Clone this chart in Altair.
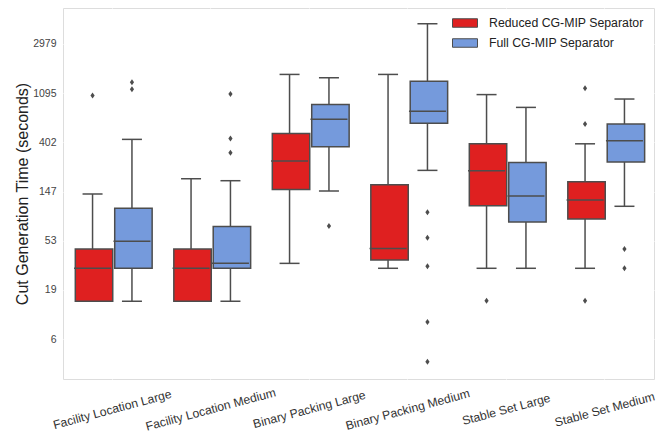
import altair as alt
import pandas as pd

groups = ["Facility Location Large", "Facility Location Medium", "Binary Packing Large",
          "Binary Packing Medium", "Stable Set Large", "Stable Set Medium"]
series = ["Reduced CG-MIP Separator", "Full CG-MIP Separator"]

# values are positions on the (natural-log) time axis
red_lo = [2.77, 2.77, 3.54, 3.44, 3.44, 3.44]
red_q1 = [2.77, 2.77, 5.04, 3.61, 4.71, 4.44]
red_med = [3.44, 3.44, 5.62, 3.84, 5.42, 4.83]
red_q3 = [3.83, 3.83, 6.18, 5.14, 5.97, 5.20]
red_hi = [4.95, 5.26, 7.38, 7.38, 6.97, 5.97]

blue_lo = [2.77, 2.77, 5.01, 5.43, 3.44, 4.70]
blue_q1 = [3.44, 3.44, 5.91, 6.39, 4.38, 5.60]
blue_med = [3.99, 3.54, 6.47, 6.63, 4.91, 6.03]
blue_q3 = [4.66, 4.29, 6.77, 7.24, 5.59, 6.37]
blue_hi = [6.06, 5.22, 7.31, 8.41, 6.71, 6.88]

red_outliers = [[6.95], [], [], [], [2.78], [7.10, 6.37, 2.78]]
blue_outliers = [[7.22, 7.08], [6.98, 6.08, 5.79], [4.30],
                 [4.58, 4.06, 3.48, 2.35, 1.54], [], [3.83, 3.44]]

tick_vals = [2, 3, 4, 5, 6, 7, 8]
tick_labels = ["6", "19", "53", "147", "402", "1095", "2979"]

colors = ["#DF2020", "#759ADC"]
edge = "#4D4D4D"
FONT = "Liberation Sans"

rows = []
for s, (lo, q1, med, q3, hi) in zip(series, [(red_lo, red_q1, red_med, red_q3, red_hi),
                                            (blue_lo, blue_q1, blue_med, blue_q3, blue_hi)]):
    for i, g in enumerate(groups):
        rows.append(dict(group=g, series=s, lo=lo[i], q1=q1[i], med=med[i], q3=q3[i], hi=hi[i]))
summary = pd.DataFrame(rows)

orows = []
for s, outs in zip(series, [red_outliers, blue_outliers]):
    for i, g in enumerate(groups):
        for v in outs[i]:
            orows.append(dict(group=g, series=s, v=v))
outliers = pd.DataFrame(orows)

label_expr = " : ".join(
    f"datum.value == {v} ? '{l}'" for v, l in zip(tick_vals, tick_labels)
) + " : ''"

x_enc = alt.X("group:N", sort=groups, title=None,
              scale=alt.Scale(paddingInner=0, paddingOuter=0),
              axis=alt.Axis(labelAngle=-15, labelAlign="center", labelBaseline="middle",
                            labelPadding=30, labelFontSize=12.2, labelColor="#333",
                            labelFont=FONT, domain=False, ticks=False, tickSize=0,
                            grid=True, gridColor="white", gridWidth=1, bandPosition=0.5))
xo_enc = alt.XOffset("series:N", sort=series,
                     scale=alt.Scale(domain=series, paddingOuter=0.25, paddingInner=0))
y_scale = alt.Scale(domain=[1.19, 8.73], nice=False, zero=False)
y_axis = alt.Axis(values=tick_vals, labelExpr=label_expr, title="Cut Generation Time (seconds)",
                  titleFontSize=16, titleFont=FONT, titleFontWeight="normal", titleColor="#222",
                  titlePadding=2, labelFontSize=10.5, labelColor="#444", labelFont=FONT,
                  domain=False, ticks=False, tickSize=0, labelPadding=7,
                  grid=True, gridColor="white", gridWidth=1)

base = alt.Chart(summary)

whisk = base.mark_rule(color=edge, strokeWidth=1.5).encode(
    x=x_enc, xOffset=xo_enc,
    y=alt.Y("lo:Q", scale=y_scale, axis=y_axis), y2="hi:Q")

cap_lo = base.mark_tick(color=edge, size=20, thickness=1.5, opacity=1).encode(
    x=x_enc, xOffset=xo_enc, y=alt.Y("lo:Q", scale=y_scale, axis=y_axis))
cap_hi = base.mark_tick(color=edge, size=20, thickness=1.5, opacity=1).encode(
    x=x_enc, xOffset=xo_enc, y=alt.Y("hi:Q", scale=y_scale, axis=y_axis))

box = base.mark_bar(stroke=edge, strokeWidth=1.5, opacity=1,
                    width=alt.RelativeBandSize(0.95)).encode(
    x=x_enc, xOffset=xo_enc,
    y=alt.Y("q1:Q", scale=y_scale, axis=y_axis), y2="q3:Q",
    color=alt.Color("series:N", sort=series,
                    scale=alt.Scale(domain=series, range=colors),
                    legend=alt.Legend(title=None, orient="none", legendX=389, legendY=2,
                                      symbolType="M-1,-0.34H1V0.34H-1Z", symbolSize=625,
                                      symbolStrokeColor=edge, symbolStrokeWidth=1,
                                      symbolOpacity=1, labelFontSize=12.3, labelFont=FONT,
                                      labelColor="#222", labelOffset=11, rowPadding=-8,
                                      labelLimit=300)))

median = base.mark_tick(color=edge, size=37, thickness=1.5, opacity=1).encode(
    x=x_enc, xOffset=xo_enc, y=alt.Y("med:Q", scale=y_scale, axis=y_axis))

pts = alt.Chart(outliers).mark_point(
    shape="M0,-1L0.7,0L0,1L-0.7,0Z", filled=True, size=36, color=edge, opacity=1).encode(
    x=x_enc, xOffset=xo_enc, y=alt.Y("v:Q", scale=y_scale, axis=y_axis))

chart = alt.layer(whisk, cap_lo, cap_hi, box, median, pts).properties(
    width=591, height=371,
    autosize=alt.AutoSizeParams(type="none"),
    padding={"left": 55, "top": 0, "right": 8, "bottom": 55},
).configure_view(fill="#E5E5E5", stroke="#D9D9D9", strokeWidth=1).configure(
    background="white").configure_legend(labelFontSize=12.3)

chart.save("out.html", embed_options={"renderer": "svg", "actions": False})
